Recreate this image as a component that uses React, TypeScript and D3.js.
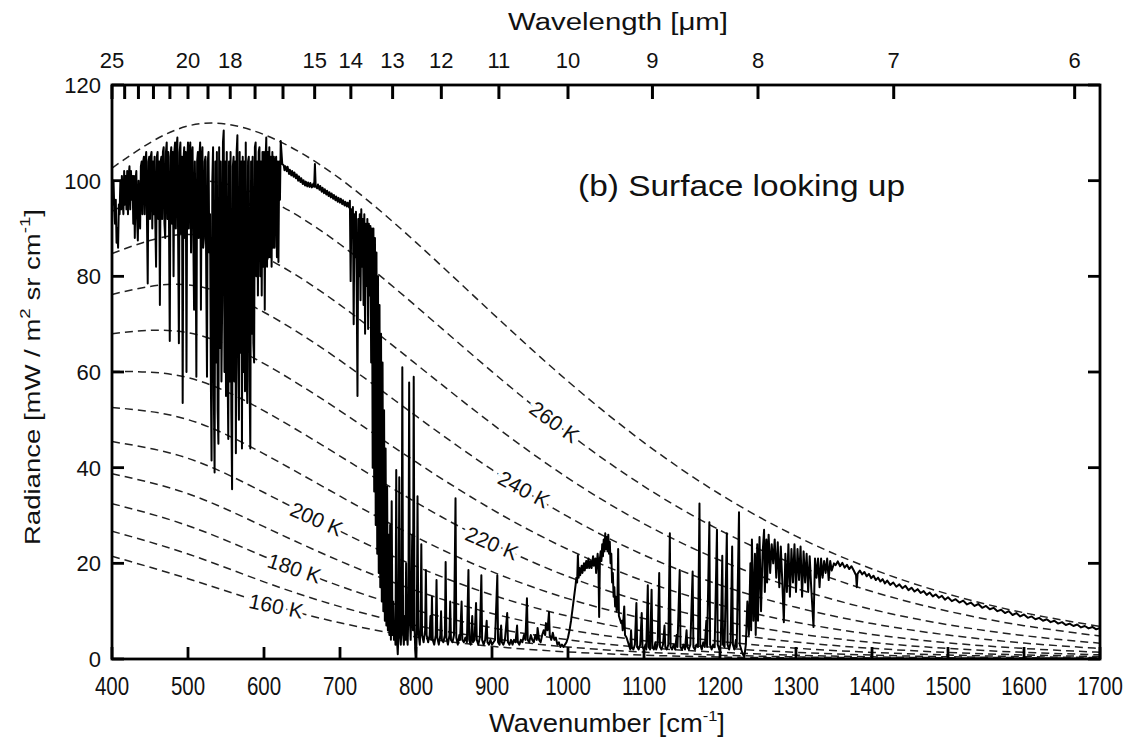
import React from "react";
import * as d3 from "d3";

// ---- data ----
const planckWavenumbers = [400, 500, 600, 700, 800, 900, 1000, 1100, 1200, 1300, 1400, 1500, 1600, 1700];

const radiance160K = [21.48, 16.79, 11.73, 7.56, 4.59, 2.65, 1.48, 0.8, 0.42, 0.22, 0.11, 0.056, 0.028, 0.013];
const radiance170K = [26.72, 21.95, 16.13, 10.95, 7.0, 4.27, 2.51, 1.44, 0.8, 0.44, 0.23, 0.12, 0.064, 0.033];
const radiance180K = [32.48, 27.87, 21.44, 15.24, 10.2, 6.53, 4.02, 2.41, 1.41, 0.8, 0.45, 0.25, 0.14, 0.074];
const radiance190K = [38.74, 34.55, 27.66, 20.48, 14.3, 9.53, 6.13, 3.83, 2.33, 1.39, 0.81, 0.47, 0.27, 0.15];
const radiance200K = [45.45, 41.95, 34.8, 26.73, 19.37, 13.41, 8.95, 5.8, 3.67, 2.27, 1.38, 0.83, 0.49, 0.29];
const radiance210K = [52.59, 50.05, 42.88, 34.04, 25.5, 18.26, 12.62, 8.46, 5.53, 3.55, 2.23, 1.38, 0.85, 0.51];
const radiance220K = [60.11, 58.82, 51.87, 42.42, 32.76, 24.19, 17.23, 11.92, 8.04, 5.32, 3.45, 2.21, 1.39, 0.87];
const radiance230K = [68.0, 68.22, 61.75, 51.88, 41.19, 31.27, 22.91, 16.3, 11.31, 7.69, 5.14, 3.38, 2.2, 1.41];
const radiance240K = [76.22, 78.22, 72.49, 62.42, 50.81, 39.58, 29.75, 21.72, 15.47, 10.8, 7.4, 5.0, 3.33, 2.19];
const radiance250K = [84.75, 88.77, 84.08, 74.03, 61.67, 49.17, 37.83, 28.28, 20.64, 14.75, 10.36, 7.16, 4.89, 3.3];
const radiance260K = [93.56, 99.85, 96.47, 86.71, 73.76, 60.08, 47.25, 36.1, 26.92, 19.67, 14.12, 9.99, 6.97, 4.81];
const radiance270K = [102.63, 111.44, 109.63, 100.41, 87.09, 72.35, 58.04, 45.25, 34.44, 25.68, 18.82, 13.58, 9.67, 6.81];

const blackbodyCurves = [
  { t: 160, values: radiance160K },
  { t: 170, values: radiance170K },
  { t: 180, values: radiance180K },
  { t: 190, values: radiance190K },
  { t: 200, values: radiance200K },
  { t: 210, values: radiance210K },
  { t: 220, values: radiance220K },
  { t: 230, values: radiance230K },
  { t: 240, values: radiance240K },
  { t: 250, values: radiance250K },
  { t: 260, values: radiance260K },
  { t: 270, values: radiance270K },
];

const labelledTemps = [160, 180, 200, 220, 240, 260];

// measured spectrum, [wavenumber, radiance]
const spectrumFarIR: [number, number][] = [
  [400, 99], [401, 95], [402, 100], [403, 94], [404, 91], [405, 96], [406, 87], [407, 90], [408, 86],
  [409, 95], [410, 93], [411, 100], [412, 94], [413, 101], [414, 96], [415, 93], [416, 102], [417, 95],
  [418, 101], [419, 94], [420, 102], [421, 93], [422, 101], [423, 103], [424, 94], [425, 102], [426, 96],
  [427, 101], [428, 91], [429, 101], [430, 88], [431, 100], [432, 102], [433, 92], [434, 87.5], [435, 100],
  [436, 94], [437, 90], [438, 103], [439, 104], [440, 93],
  [441, 104], [442, 105], [443, 93], [444, 104], [445, 106], [446, 92], [447, 78.5], [448, 104], [449, 105],
  [450, 92], [451, 105], [452, 106], [453, 90], [454, 104], [455, 93], [456, 105], [457, 91], [458, 82],
  [459, 105], [460, 106], [461, 92], [462, 104], [463, 74], [464, 104], [465, 105], [466, 92], [467, 106],
  [468, 107], [469, 91], [470, 88], [471, 106], [472, 108], [473, 92], [474, 106], [475, 91], [476, 66.5],
  [477, 105], [478, 107], [479, 91], [480, 106], [481, 80], [482, 106], [483, 108], [484, 90], [485, 107],
  [486, 109], [487, 88], [488, 66], [489, 106], [490, 108], [491, 89], [492, 105], [493, 53.5], [494, 104],
  [495, 107], [496, 88], [497, 106], [498, 60], [499, 104], [500, 108], [501, 90], [502, 106], [503, 108],
  [504, 85], [505, 105], [506, 107], [507, 88], [508, 73], [509, 104], [510, 90], [511, 59], [512, 104],
  [513, 106], [514, 88], [515, 105], [516, 108], [517, 73], [518, 104], [519, 107], [520, 86], [521, 88],
  [522, 104], [523, 105], [524, 80], [525, 59], [526, 104], [527, 106], [528, 85],
  [529, 93], [530, 60], [531, 41.5], [532, 100], [533, 107], [534, 55], [535, 39], [536, 104], [537, 62],
  [538, 106], [539, 52], [540, 45], [541, 107], [542, 65], [543, 104], [544, 58], [545, 75], [546, 108],
  [547, 110.5], [548, 60], [549, 104], [550, 55], [551, 106], [552, 62], [553, 46], [554, 104], [555, 58],
  [556, 106], [557, 52], [558, 35.5], [559, 103], [560, 105], [561, 58], [562, 104], [563, 43], [564, 106],
  [565, 109.5], [566, 62], [567, 50], [568, 106], [569, 64], [570, 104], [571, 44], [572, 105], [573, 60],
  [574, 104], [575, 56], [576, 108], [577, 62], [578, 53.5], [579, 104], [580, 105], [581, 58], [582, 44],
  [583, 104], [584, 68], [585, 105], [586, 66], [587, 62], [588, 107], [589, 108], [590, 80], [591, 104],
  [592, 76], [593, 106], [594, 107], [595, 80], [596, 104], [597, 76], [598, 106], [599, 82], [600, 106],
  [601, 73], [602, 104], [603, 109], [604, 82], [605, 106], [606, 84], [607, 107], [608, 84], [609, 105],
  [610, 82], [611, 106], [612, 86], [613, 105], [614, 86], [615, 104], [616, 105], [617, 84], [618, 104],
  [619, 83], [620, 104], [621, 96], [622, 108.3], [624, 103.5],
];

const spectrumCO2Wing: [number, number][] = [
  [626, 103.2], [627, 102.2], [628, 103], [630, 102], [631, 102.9], [633, 101.4], [634, 102.3], [636, 101.1],
  [637, 102], [639, 100.8], [640, 101.7], [642, 100.5], [643, 101.3], [645, 100], [646, 100.9], [648, 99.7],
  [649, 100.5], [651, 99.3], [652, 100.1], [654, 99], [655, 99.8], [657, 98.8], [658, 99.6], [660, 98.7],
  [661, 99.5], [663, 98.6], [665, 99.4], [666, 98.7], [667, 103.5], [668, 98.8], [670, 98.4], [671, 99.2],
  [673, 98.1], [674, 98.9], [676, 97.7], [677, 98.5], [679, 97.4], [680, 98.2], [682, 97.1], [683, 97.9],
  [685, 96.8], [686, 97.6], [688, 96.5], [689, 97.3], [691, 96.2], [692, 97], [694, 95.9], [695, 96.7],
  [697, 95.6], [698, 96.4], [700, 95.4], [701, 96.2], [703, 95.1], [704, 95.9], [706, 94.8], [707, 95.6],
  [709, 94.6], [710, 95.4], [712, 94.4],
  [713, 95.8], [714, 79], [715, 94], [716, 88], [717, 94.5], [718, 70], [719, 93], [720, 84], [721, 93.5],
  [722, 77], [723, 55], [724, 92], [725, 80], [726, 93], [727, 75], [728, 94], [729, 82], [730, 92],
  [731, 74], [732, 93], [733, 68], [734, 91], [735, 78], [736, 92], [737, 69], [738, 91], [739, 76],
  [740, 90.5], [741, 62], [742, 90],
  [743, 40], [744, 90], [745, 35], [746, 88], [747, 28], [748, 85], [749, 22], [750, 80], [751, 18],
  [752, 74], [753, 15], [754, 68], [755, 12], [756, 62], [757, 10], [758, 52], [759, 8], [760, 44],
  [761, 7], [762, 36], [763, 6], [764, 26], [765, 5], [766, 28], [767, 4], [768, 33], [769, 5], [770, 12],
];

const spectrumWindow: [number, number][] = [
  [771, 4], [772, 8], [773, 3], [774, 39.5], [775, 4], [776, 1], [777, 6], [778, 38], [779, 5], [780, 3],
  [781, 7], [782, 61], [783, 6], [784, 3], [785, 9], [786, 4], [787, 20], [788, 5], [789, 3], [790, 10],
  [791, 57.8], [792, 8], [793, 4], [794, 12], [795, 26], [796, 6], [797, 59], [798, 7], [799, 2], [800, 0.5],
  [801, 5], [802, 34], [803, 6], [805, 3], [806, 7], [807, 24], [808, 5], [810, 3.5], [812, 6], [813, 18.6],
  [814, 5], [816, 3.5], [818, 5], [819, 9], [820, 4], [821, 13], [822, 4], [824, 3], [826, 5], [827, 16.5],
  [828, 4.5], [830, 3], [832, 5], [833, 10], [834, 4], [836, 3.5], [838, 5], [839, 20.3], [840, 4.5],
  [842, 3], [844, 5], [845, 12], [846, 4], [848, 3.5], [850, 5], [852, 33.6], [853, 4.5], [855, 3],
  [857, 5], [858, 4], [860, 12], [861, 4], [863, 3.5], [865, 4.5], [867, 3.5], [869, 18.6], [870, 4],
  [872, 3], [874, 9], [875, 3.5], [877, 4], [879, 11.7], [880, 4], [882, 3], [884, 4.5], [886, 17.5],
  [887, 4], [889, 3], [891, 4], [893, 8], [894, 3.5], [896, 3], [898, 4], [900, 3], [902, 3.5], [904, 4],
  [907, 17.5], [908, 3.5], [910, 3], [912, 7], [913, 3.5], [915, 3], [917, 4], [920, 9.6], [921, 3.5],
  [923, 3], [925, 4], [927, 3], [929, 4], [931, 3.5], [933, 7], [934, 3.5], [936, 3], [938, 4], [940, 3.5],
  [942, 5], [944, 4], [946, 12.7], [947, 4], [949, 3.5], [951, 5], [953, 4], [955, 3.5], [957, 5], [959, 4],
  [960, 6.5], [962, 4], [964, 3.5], [966, 5], [968, 6], [970, 5], [971, 7.5], [973, 6], [975, 9.8],
  [976, 5], [978, 4], [980, 5.5], [982, 4], [984, 4.5], [986, 3], [988, 3.5], [990, 2.5], [992, 3],
  [994, 2.5], [996, 3], [998, 3.5],
];

const spectrumOzone: [number, number][] = [
  [1000, 4.5], [1002, 6], [1004, 8], [1006, 10.5], [1008, 13], [1010, 15.5], [1011, 17], [1012, 16],
  [1013, 21.7], [1014, 17], [1015, 19], [1016, 17.5], [1018, 19.5], [1019, 18], [1021, 20], [1022, 18.5],
  [1024, 20.5], [1025, 19], [1027, 21], [1028, 19], [1030, 20.5], [1031, 19], [1033, 21.5], [1034, 19.5],
  [1036, 21], [1037, 18], [1039, 22], [1040, 20], [1041, 8.8], [1042, 21], [1043, 22.5], [1044, 20.5],
  [1045, 24], [1046, 21.5], [1047, 25], [1048, 22.5], [1049, 26.3], [1050, 23], [1051, 25.5], [1052, 22.5],
  [1053, 26], [1054, 22], [1055, 24.5], [1056, 20], [1057, 22], [1058, 16], [1059, 18], [1060, 13],
  [1061, 15], [1062, 11], [1063, 13], [1064, 10], [1065, 11.5], [1066, 23], [1067, 9], [1068, 8.5],
  [1070, 7.5], [1071, 8], [1072, 6], [1074, 11], [1075, 5], [1077, 4.5], [1079, 3.5],
];

const spectrumWindow2: [number, number][] = [
  [1080, 3], [1082, 2], [1083, 6], [1084, 2.5], [1086, 2], [1088, 3], [1090, 11.7], [1091, 2.5], [1093, 2],
  [1095, 3], [1097, 9.6], [1098, 2.5], [1100, 2], [1102, 3], [1103, 2], [1105, 15.4], [1106, 2.5], [1108, 2],
  [1110, 14.5], [1111, 2.5], [1113, 2], [1115, 3.5], [1116, 2], [1118, 3], [1120, 18], [1121, 2.5],
  [1123, 2], [1125, 3], [1127, 7], [1128, 2.5], [1130, 2], [1132, 3], [1134, 26.3], [1135, 2.5], [1137, 2],
  [1139, 3], [1141, 2], [1143, 5], [1144, 2.5], [1147, 18.6], [1148, 2.5], [1150, 2], [1152, 3], [1154, 2],
  [1156, 6], [1157, 2.5], [1159, 2], [1161, 3], [1164, 18.3], [1165, 2.5], [1167, 2], [1169, 3], [1171, 2.5],
  [1173, 32.5], [1174, 3], [1176, 2], [1178, 3.5], [1180, 2.5], [1182, 8], [1183, 2.5], [1186, 28.6],
  [1187, 3], [1189, 2], [1191, 3], [1193, 2.5], [1196, 27], [1197, 3], [1199, 2], [1201, 3], [1203, 21.6],
  [1204, 3], [1206, 2.5], [1209, 26.3], [1210, 3], [1212, 2], [1214, 3.5], [1216, 23.5], [1217, 3],
  [1219, 2], [1221, 4], [1222, 2.5], [1225, 30.7], [1226, 3], [1228, 2], [1230, 1], [1232, 0.5], [1234, 3],
];

const spectrumWaterBand: [number, number][] = [
  [1236, 12], [1238, 5], [1240, 20], [1241, 6], [1242, 25], [1244, 8], [1246, 22], [1247, 5], [1249, 24],
  [1250, 8], [1252, 25.5], [1254, 10], [1256, 22], [1258, 27], [1259, 14], [1261, 25], [1262, 16],
  [1264, 26], [1266, 18], [1268, 24], [1270, 20], [1272, 25], [1274, 17], [1276, 24.4], [1278, 15],
  [1280, 23.5], [1282, 16], [1284, 7.7], [1286, 22], [1288, 14], [1290, 24], [1292, 13], [1294, 23],
  [1296, 16], [1298, 24], [1300, 14], [1302, 23], [1304, 16.5], [1306, 23.5], [1308, 13], [1310, 22.5],
  [1312, 16], [1314, 22], [1316, 14], [1318, 21.5], [1320, 15], [1323, 6.7], [1325, 21], [1327, 17],
  [1329, 21], [1331, 15], [1333, 21], [1335, 17], [1337, 20.5], [1339, 18], [1341, 21], [1343, 16.5],
  [1345, 20.5], [1347, 18.5], [1350, 20],
  [1352, 19.6], [1355, 20.4], [1358, 19.4], [1361, 20.1], [1364, 19.1], [1367, 19.7], [1370, 18.8],
  [1373, 19.4], [1376, 18.5], [1379, 17.5], [1380, 15], [1381, 17.8], [1384, 18.5], [1387, 17.7],
  [1390, 18.2], [1393, 17.3], [1396, 17.8], [1399, 16.9], [1402, 17.4], [1405, 16.5], [1408, 17],
  [1411, 16.2], [1414, 16.7], [1417, 15.8], [1420, 16.4], [1424, 15.5], [1428, 16], [1432, 15.1],
  [1436, 15.6], [1440, 14.8], [1444, 15.3], [1448, 14.4], [1452, 14.9], [1456, 14.1], [1460, 14.6],
  [1464, 13.8], [1468, 14.2], [1472, 13.4], [1476, 13.9], [1480, 13.1], [1484, 13.5], [1488, 12.8],
  [1492, 13.2], [1496, 12.4], [1500, 12.9], [1505, 12.1], [1510, 12.5], [1515, 11.8], [1520, 12.2],
  [1525, 11.4], [1530, 11.8], [1535, 11.1], [1540, 11.5], [1545, 10.7], [1550, 11.1], [1555, 10.4],
  [1560, 10.7], [1565, 10], [1570, 10.3], [1575, 9.6], [1580, 10], [1585, 9.2], [1590, 9.6], [1595, 8.9],
  [1600, 9.3], [1605, 8.6], [1610, 8.9], [1615, 8.3], [1620, 8.6], [1625, 8], [1630, 8.3], [1635, 7.7],
  [1640, 8], [1645, 7.4], [1650, 7.7], [1655, 7.1], [1660, 7.4], [1665, 6.9], [1670, 7.2], [1675, 6.6],
  [1680, 6.9], [1685, 6.4], [1690, 6.7], [1695, 6.2], [1700, 6.5],
];

const wavenumberTicks = [400, 500, 600, 700, 800, 900, 1000, 1100, 1200, 1300, 1400, 1500, 1600, 1700];
const radianceTicks = [0, 20, 40, 60, 80, 100, 120];
const wavelengthTicks = [25, 24, 23, 22, 21, 20, 19, 18, 17, 16, 15, 14, 13, 12, 11, 10, 9, 8, 7, 6];
const wavelengthLabels = [25, 20, 18, 15, 14, 13, 12, 11, 10, 9, 8, 7, 6];

// ---- layout ----
const W = 1135;
const H = 742;
const plot = { left: 112, right: 1100, top: 85, bottom: 659 };
// where along each curve the temperature label sits (wavenumber)
const labelAt: Record<number, number> = { 160: 616, 180: 640, 200: 669, 220: 900, 240: 942, 260: 982 };

const sans = "'Liberation Sans', Arial, Helvetica, sans-serif";
const narrow = "'Liberation Sans Narrow', 'Liberation Sans', Arial, sans-serif";

export default function App() {
  const x = d3.scaleLinear().domain([400, 1700]).range([plot.left, plot.right]);
  const y = d3.scaleLinear().domain([0, 120]).range([plot.bottom, plot.top]);

  const planckLine = d3
    .line<number>()
    .x((_, i) => x(planckWavenumbers[i]))
    .y((d) => y(d))
    .curve(d3.curveNatural);

  const spectrum = [
    ...spectrumFarIR,
    ...spectrumCO2Wing,
    ...spectrumWindow,
    ...spectrumOzone,
    ...spectrumWindow2,
    ...spectrumWaterBand,
  ];
  const spectrumLine = d3
    .line<[number, number]>()
    .x((d) => x(d[0]))
    .y((d) => y(d[1]));

  const labels = labelledTemps.map((t) => {
    const curve = blackbodyCurves.find((c) => c.t === t)!;
    const interp = d3.scaleLinear().domain(planckWavenumbers).range(curve.values);
    const wn = labelAt[t];
    const x1 = x(wn - 15), y1 = y(interp(wn - 15));
    const x2 = x(wn + 15), y2 = y(interp(wn + 15));
    const angle = (Math.atan2(y2 - y1, x2 - x1) * 180) / Math.PI - 3;
    return { t, cx: x(wn), cy: y(interp(wn)), angle };
  });

  return (
    <svg
      width={W}
      height={H}
      style={{ position: "absolute", left: 0, top: 0, background: "#fff" }}
    >
      <defs>
        <clipPath id="plotClip">
          <rect x={plot.left} y={plot.top} width={plot.right - plot.left} height={plot.bottom - plot.top} />
        </clipPath>
      </defs>

      {/* blackbody curves */}
      <g clipPath="url(#plotClip)">
        {blackbodyCurves.map((c) => (
          <path
            key={c.t}
            d={planckLine(c.values) || ""}
            fill="none"
            stroke="#222"
            strokeWidth={1.5}
            strokeDasharray="8 5"
          />
        ))}
      </g>

      {/* curve labels */}
      {labels.map((l) => (
        <text
          key={l.t}
          transform={`translate(${l.cx},${l.cy}) rotate(${l.angle})`}
          textAnchor="middle"
          dy="0.35em"
          fontFamily={sans}
          fontSize={21}
          fill="#111"
          stroke="#fff"
          strokeWidth={7}
          paintOrder="stroke"
        >
          {l.t} K
        </text>
      ))}

      {/* spectrum */}
      <g clipPath="url(#plotClip)">
        <path d={spectrumLine(spectrum) || ""} fill="none" stroke="#000" strokeWidth={2} strokeLinejoin="round" />
      </g>

      {/* frame */}
      <rect
        x={plot.left}
        y={plot.top}
        width={plot.right - plot.left}
        height={plot.bottom - plot.top}
        fill="none"
        stroke="#000"
        strokeWidth={2.8}
      />

      {/* bottom axis */}
      {wavenumberTicks.map((v) => (
        <g key={v}>
          <line x1={x(v)} x2={x(v)} y1={plot.bottom} y2={plot.bottom - 12} stroke="#000" strokeWidth={2.8} />
          <text
            transform={`translate(${x(v)},${plot.bottom + 36}) scale(0.82,1)`}
            textAnchor="middle"
            fontFamily={narrow}
            fontSize={25}
            fill="#111"
          >
            {v}
          </text>
        </g>
      ))}
      <text
        x={607}
        y={732}
        textAnchor="middle"
        fontFamily={narrow}
        fontSize={25}
        fill="#111"
        textLength={236}
        lengthAdjust="spacingAndGlyphs"
      >
        Wavenumber [cm
        <tspan dy={-11} fontSize={15}>-1</tspan>
        <tspan dy={11}>]</tspan>
      </text>

      {/* left and right axis */}
      {radianceTicks.map((v) => (
        <g key={v}>
          <line x1={plot.left} x2={plot.left + 12} y1={y(v)} y2={y(v)} stroke="#000" strokeWidth={2.8} />
          <line x1={plot.right} x2={plot.right - 12} y1={y(v)} y2={y(v)} stroke="#000" strokeWidth={2.8} />
          <text x={plot.left - 11} y={y(v)} dy="0.36em" textAnchor="end" fontFamily={sans} fontSize={22} fill="#111">
            {v}
          </text>
        </g>
      ))}
      <text
        transform={`translate(40,377) rotate(-90)`}
        textAnchor="middle"
        fontFamily={sans}
        fontSize={22}
        fill="#111"
        textLength={336}
        lengthAdjust="spacingAndGlyphs"
      >
        Radiance [mW / m<tspan dy={-10} fontSize={15}>2</tspan>
        <tspan dy={10}> sr cm</tspan>
        <tspan dy={-10} fontSize={15}>-1</tspan>
        <tspan dy={10}>]</tspan>
      </text>

      {/* top axis: wavelength */}
      {wavelengthTicks.map((w) => (
        <line
          key={w}
          x1={x(10000 / w)}
          x2={x(10000 / w)}
          y1={plot.top}
          y2={plot.top + 14}
          stroke="#000"
          strokeWidth={3}
        />
      ))}
      {wavelengthLabels.map((w) => (
        <text key={w} x={x(10000 / w)} y={plot.top - 17} textAnchor="middle" fontFamily={sans} fontSize={22} fill="#111">
          {w}
        </text>
      ))}
      <text
        x={618}
        y={30}
        textAnchor="middle"
        fontFamily={sans}
        fontSize={23}
        fill="#111"
        textLength={220}
        lengthAdjust="spacingAndGlyphs"
      >
        Wavelength [μm]
      </text>

      <text x={578} y={196} fontFamily={sans} fontSize={29} fill="#111" textLength={327} lengthAdjust="spacingAndGlyphs">
        (b) Surface looking up
      </text>
    </svg>
  );
}
